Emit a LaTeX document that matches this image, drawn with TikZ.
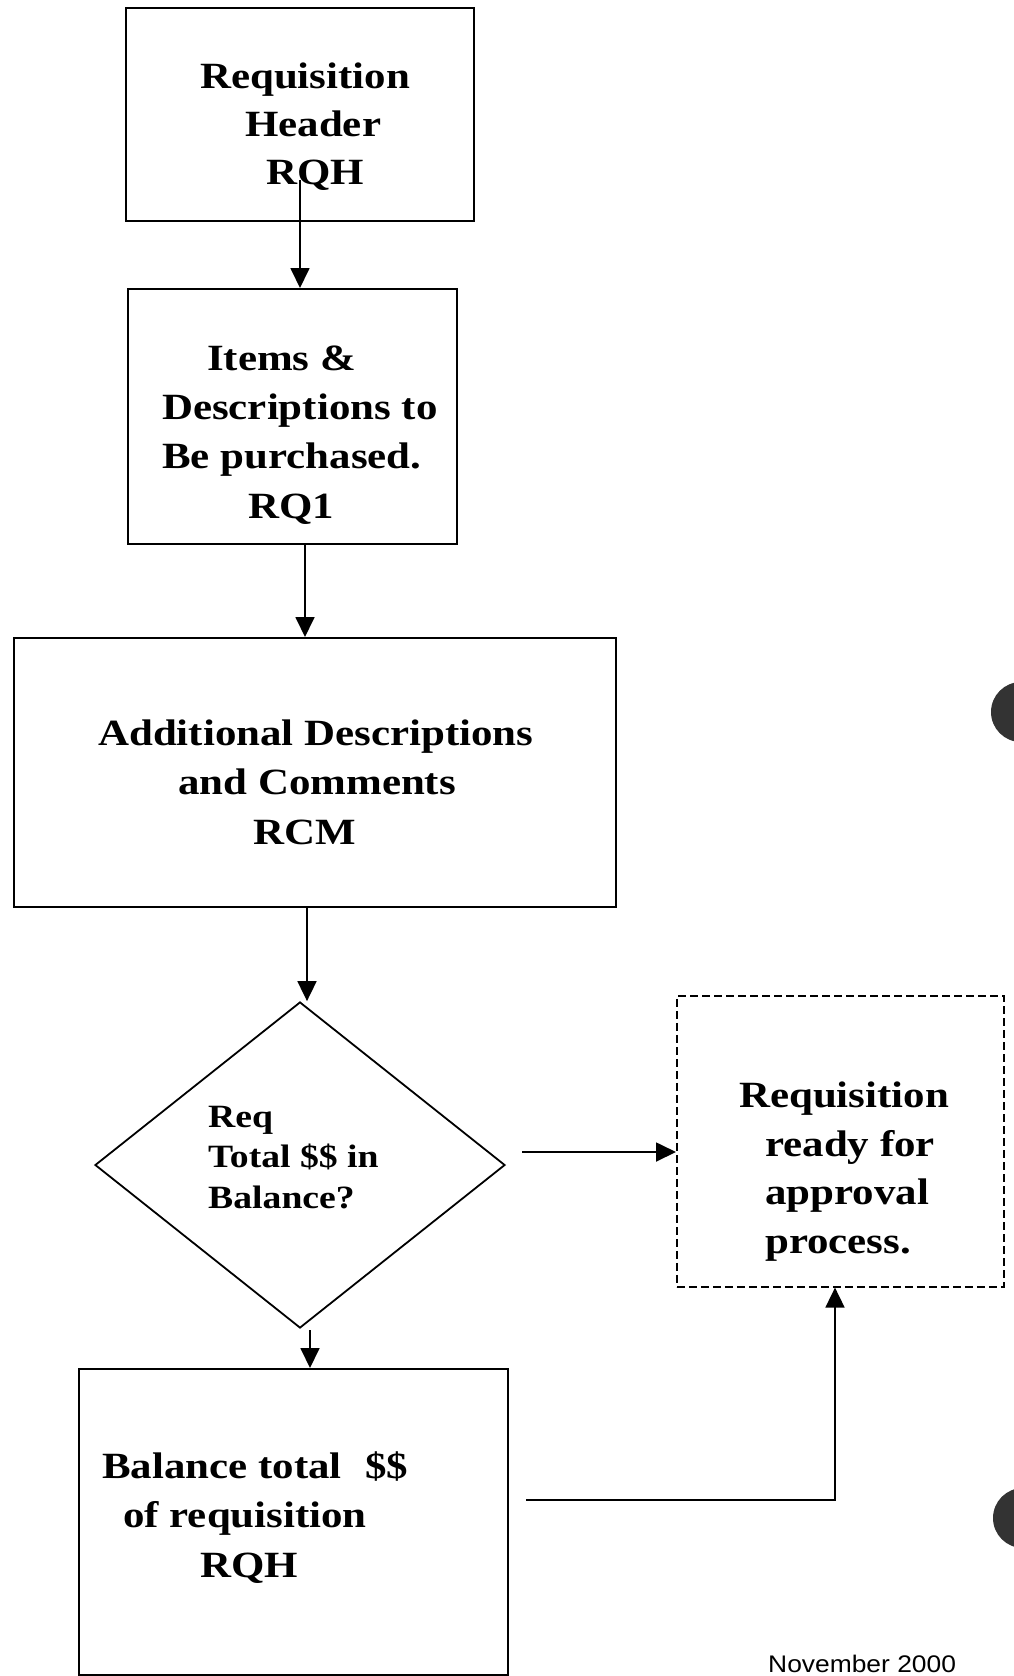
\documentclass[tikz,border=0pt]{standalone}
\usepackage{fontspec}
\setmainfont{Liberation Serif}[FakeStretch=1.16]
\newfontfamily\datefont{Liberation Sans}[FakeStretch=1.1]
\usetikzlibrary{arrows.meta,shapes.geometric}

\tikzset{
  stepbox/.style={draw, line width=2pt, inner sep=0pt, anchor=north west, rectangle},
  donebox/.style={draw, line width=1.6pt, dash pattern=on 8pt off 4pt, inner sep=0pt, anchor=north west, rectangle},
  decision/.style={draw, diamond, line width=1.8pt, inner sep=0pt},
  % texts are placed by the baseline of their last line
  label/.style={anchor=base west, align=left, inner sep=0pt,
    font=\fontsize{37pt}{49.5pt}\selectfont\bfseries},
  smalllabel/.style={anchor=base west, align=left, inner sep=0pt,
    font=\fontsize{32.5pt}{40.5pt}\selectfont\bfseries},
  arr/.style={line width=1.8pt, -{Triangle[length=20pt,width=19pt]}},
  punch/.style={fill=black!80},
}

\begin{document}
\begin{tikzpicture}[x=1pt,y=-1pt]
  \useasboundingbox[fill=white] (0,0) rectangle (1013,1676);

  % punched holes at the right margin
  \fill[punch] (1021,712) circle[radius=30pt];
  \fill[punch] (1023,1518) circle[radius=30pt];

  % process boxes
  \node[stepbox, minimum width=348, minimum height=213] (b1) at (125,7) {};
  \node[stepbox, minimum width=329, minimum height=255] (b2) at (127,288) {};
  \node[stepbox, minimum width=602, minimum height=269] (b3) at (13,637) {};
  \node[decision, minimum width=410, minimum height=326] (dia) at (300,1165) {};
  \node[stepbox, minimum width=429, minimum height=306] (b4) at (78,1368) {};
  \node[donebox, minimum width=327, minimum height=291] (done) at (676,995) {};

  % box texts
  \node[label, font=\fontsize{37pt}{48pt}\selectfont\bfseries] (t1) at (200,184)
    {Requisition\\\hspace*{45pt}Header\\\hspace*{66pt}RQH};
  \node[label, font=\fontsize{37pt}{49.3pt}\selectfont\bfseries] (t2) at (162,518)
    {\hspace*{45pt}Items \&\\Descriptions to\\Be purchased.\\\hspace*{86pt}RQ1};
  \node[label] (t3) at (98,844)
    {Additional Descriptions\\\hspace*{80pt}and Comments\\\hspace*{155pt}RCM};
  \node[smalllabel] (tq) at (208,1208)
    {Req\\Total \$\$ in\\Balance?};
  \node[label] (t4) at (102,1577)
    {Balance total\hspace*{13pt} \$\$\\\hspace*{21pt}of requisition\\\hspace*{98pt}RQH};
  \node[label, font=\fontsize{37pt}{48.5pt}\selectfont\bfseries] (td) at (739,1253)
    {Requisition\\\hspace*{26pt}ready for\\\hspace*{26pt}approval\\\hspace*{26pt}process.};

  \node[anchor=base west, inner sep=0pt, font=\datefont\fontsize{24pt}{24pt}\selectfont]
    (date) at (768,1672) {November 2000};

  % connectors
  \coordinate (c1) at (300,180);
  \coordinate (x2) at (305,0);
  \coordinate (x3) at (307,0);
  \coordinate (x4) at (310,0);
  \coordinate (c4) at (310,1330);
  \coordinate (c5) at (522,1152);
  \coordinate (c6) at (526,1500);
  \coordinate (x6) at (835,0);

  \draw[arr] (c1) -- (b2.north -| c1);
  \draw[arr] (b2.south -| x2) -- (b3.north -| x2);
  \draw[arr] (b3.south -| x3) -- (dia.north -| x3);
  \draw[arr] (c4) -- (b4.north -| x4);
  \draw[arr] (c5) -- (c5 -| done.west);
  \draw[arr] (c6) -| (done.south -| x6);
\end{tikzpicture}
\end{document}
